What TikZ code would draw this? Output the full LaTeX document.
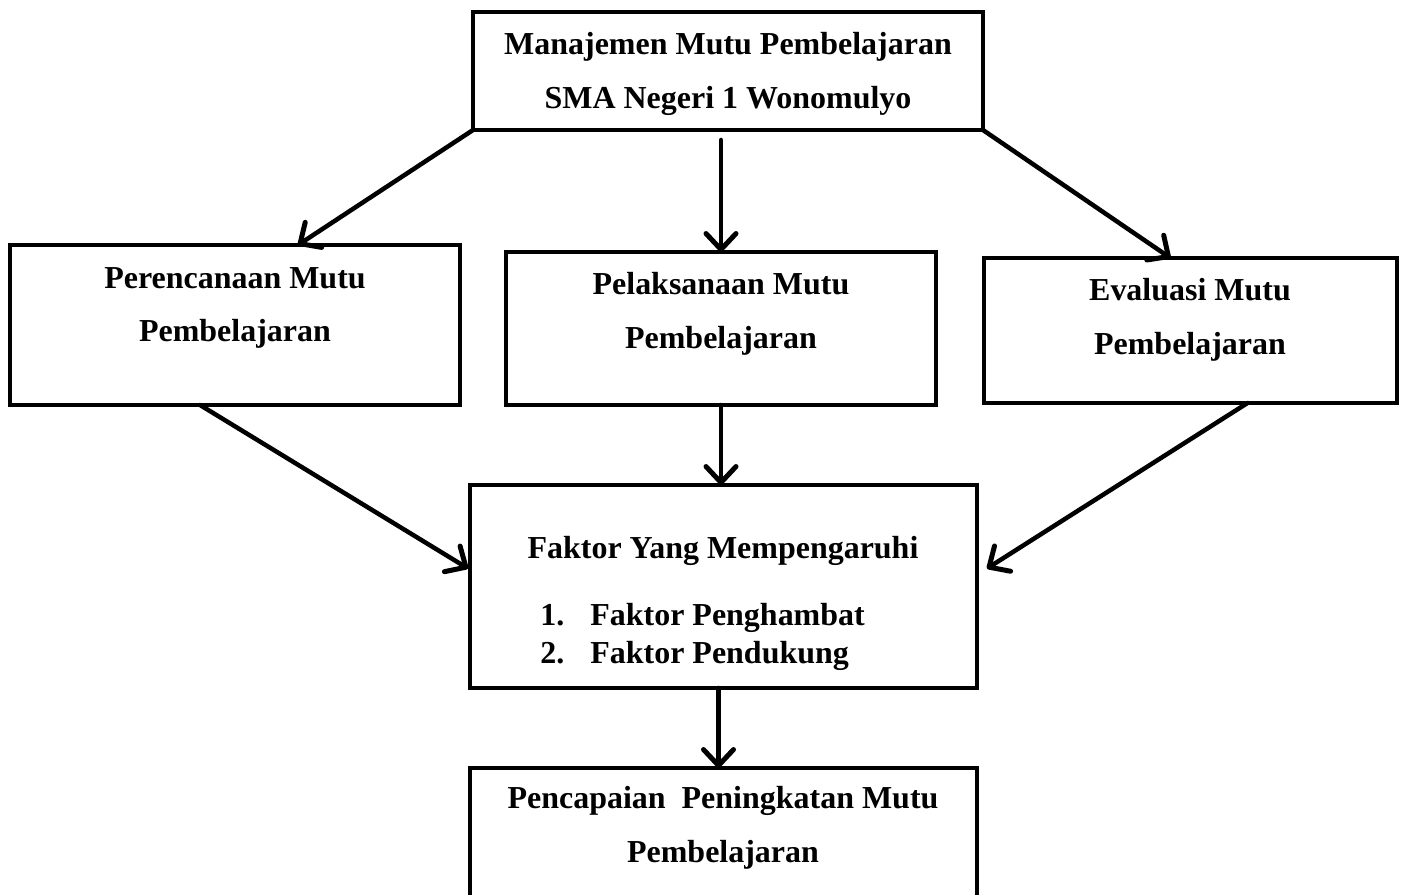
\documentclass[tikz,border=0pt]{standalone}
\usepackage{fontspec}
\setmainfont{Liberation Serif}
\usetikzlibrary{arrows.meta}
\usetikzlibrary{calc}

\begin{document}
\begin{tikzpicture}[x=0.02cm,y=-0.02cm,
  kotak node/.style={rectangle,draw,line width=0.08cm,inner sep=0.,outer sep=0.},
  teks node/.style={align=center,inner sep=0.,font=\bfseries\fontsize{18.2}{30.6}\selectfont},
  daftar node/.style={align=left,inner sep=0.,anchor=west,font=\bfseries\fontsize{18.2}{21.6}\selectfont},
  panah/.style={line width=0.09cm,line cap=round,-{Straight Barb[length=0.32cm,width=0.6cm,line width=0.1cm,line cap=round,line join=round]}}]%
  \clip (0,0) rectangle (1403,894);
  % kotak
  \node[kotak node,minimum width=10.2cm,minimum height=2.36cm] (manajemen) at (728,71) {};
  \node[kotak node,minimum width=9cm,minimum height=3.2cm] (perencanaan) at (235,325) {};
  \node[kotak node,minimum width=8.6cm,minimum height=3.06cm] (pelaksanaan) at (721,328.5) {};
  \node[kotak node,minimum width=8.26cm,minimum height=2.9cm] (evaluasi) at (1190.5,330.5) {};
  \node[kotak node,minimum width=10.14cm,minimum height=4.06cm] (faktor) at (723.5,586.5) {};
  \node[kotak node,minimum width=10.14cm,minimum height=3.2cm] (pencapaian) at (723.5,848) {};
  % teks
  \node[teks node] (manajemen teks) at (728,74) {Manajemen Mutu Pembelajaran\\SMA Negeri 1 Wonomulyo};
  \node[teks node] (perencanaan teks) at (235,308) {Perencanaan Mutu\\Pembelajaran};
  \node[teks node] (pelaksanaan teks) at (721,314) {Pelaksanaan Mutu\\Pembelajaran};
  \node[teks node] (evaluasi teks) at (1190,320) {Evaluasi Mutu\\Pembelajaran};
  \node[teks node] (faktor teks) at (723,551) {Faktor Yang Mempengaruhi};
  \node[daftar node] (faktor daftar) at (540,637) {\makebox[1cm][l]{1.}Faktor Penghambat\\\makebox[1cm][l]{2.}Faktor Pendukung};
  \node[teks node] (pencapaian teks) at (723,828) {Pencapaian\ \ Peningkatan Mutu\\Pembelajaran};
  % panah
  \draw[panah] (manajemen.south west) -- ($(perencanaan.north)+(63,0)$);
  \draw[panah] ($(pelaksanaan.north|-manajemen.south)+(0,10)$) -- (pelaksanaan.north);
  \draw[panah] (manajemen.south east) -- ($(evaluasi.north)+(-20,0)$);
  \draw[panah] ($(perencanaan.south)+(-35,0)$) -- ($(faktor.west)+(-2,-18)$);
  \draw[panah] (pelaksanaan.south) -- (pelaksanaan.south|-faktor.north);
  \draw[panah] ($(evaluasi.south)+(57,0)$) -- ($(faktor.east)+(10,-18)$);
  \draw[panah] ($(faktor.south)+(-5,0)$) -- ($(pencapaian.north)+(-5,0)$);
\end{tikzpicture}
\end{document}
